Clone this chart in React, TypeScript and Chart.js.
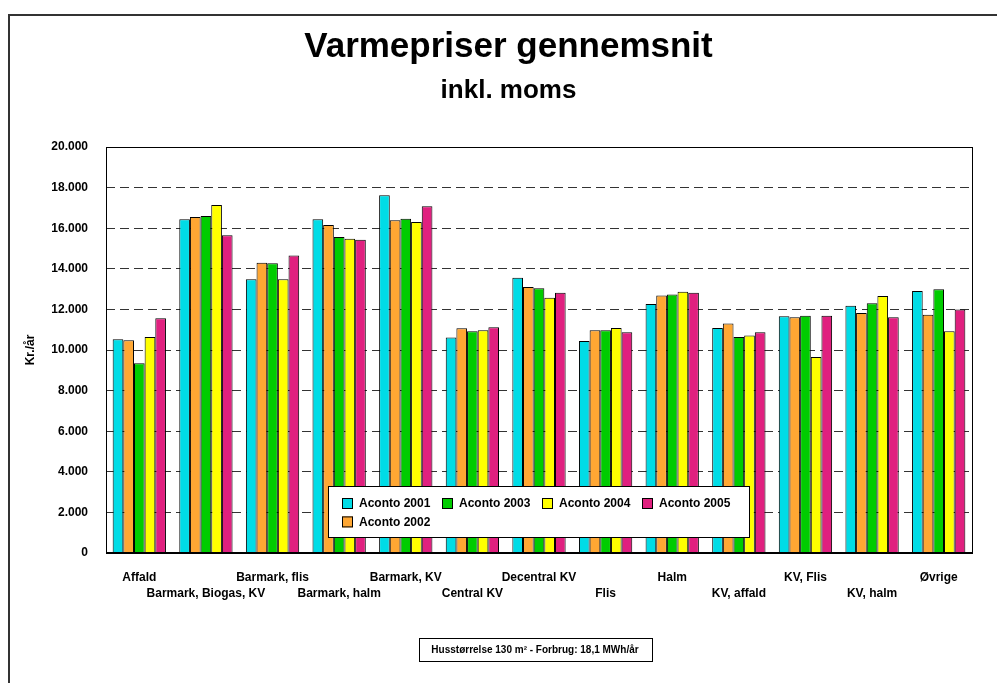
import React, { useEffect, useRef } from "react";
import { Chart, registerables } from "chart.js";

Chart.register(...registerables);

const titleText = "Varmepriser gennemsnit";
const subtitleText = "inkl. moms";
const yAxisTitle = "Kr./år";
const footnote = "Husstørrelse 130 m² - Forbrug: 18,1 MWh/år";

const categories = [
  "Affald",
  "Barmark, Biogas, KV",
  "Barmark, flis",
  "Barmark, halm",
  "Barmark, KV",
  "Central KV",
  "Decentral KV",
  "Flis",
  "Halm",
  "KV, affald",
  "KV, Flis",
  "KV, halm",
  "Øvrige",
];

const seriesNames = ["Aconto 2001", "Aconto 2002", "Aconto 2003", "Aconto 2004", "Aconto 2005"];

const aconto2001 = [10530, 16440, 13480, 16440, 17620, 10610, 13560, 10440, 12270, 11080, 11660, 12180, 12910];
const aconto2002 = [10480, 16550, 14300, 16160, 16390, 11070, 13100, 10970, 12690, 11310, 11610, 11820, 11740];
const aconto2003 = [9350, 16600, 14270, 15570, 16470, 10920, 13040, 10970, 12740, 10640, 11690, 12300, 12990];
const aconto2004 = [10640, 17140, 13480, 15480, 16310, 10970, 12580, 11080, 12870, 10710, 9660, 12660, 10920];
const aconto2005 = [11560, 15650, 14650, 15430, 17080, 11120, 12820, 10870, 12820, 10870, 11690, 11610, 12000];

const seriesValues = [aconto2001, aconto2002, aconto2003, aconto2004, aconto2005];
const seriesColors = ["#00DCE6", "#FFA733", "#00CC00", "#FFFF00", "#E0207F"];

// legend order as shown in the reference (2001, 2003, 2004, 2005 / 2002)
const legendOrder = [0, 2, 3, 4, 1];

const yMin = 0;
const yMax = 20000;
const yStep = 2000;

const FONT = "'Liberation Sans', Arial, sans-serif";

const fmt = (v: number) => String(v).replace(/\B(?=(\d{3})+(?!\d))/g, ".");

const decorPlugin = {
  id: "decor",
  afterLayout(chart: any) {
    // center title blocks over the whole canvas (not the padded layout width)
    chart.boxes.forEach((b: any) => {
      if (b && b.options && b.options.text !== undefined && b.position === "top") {
        b.left = 0;
        b.right = chart.width + 12;
        b.width = b.right - b.left;
      }
    });
  },
  beforeDraw(chart: any) {
    const ctx = chart.ctx;
    ctx.save();
    ctx.fillStyle = "#fff";
    ctx.fillRect(0, 0, chart.width, chart.height);
    // outer frame (top and left edges visible)
    ctx.strokeStyle = "#333";
    ctx.lineWidth = 2;
    ctx.beginPath();
    ctx.moveTo(1, chart.height + 2);
    ctx.lineTo(1, 7);
    ctx.lineTo(chart.width + 2, 7);
    ctx.stroke();
    ctx.restore();
  },
  afterDatasetsDraw(chart: any) {
    const ctx = chart.ctx;
    const a = chart.chartArea;
    ctx.save();
    // plot border
    ctx.strokeStyle = "#000";
    ctx.lineWidth = 1;
    ctx.strokeRect(Math.round(a.left) + 0.5, Math.round(a.top) + 0.5, Math.round(a.right - a.left), Math.round(a.bottom - a.top));
    ctx.lineWidth = 2;
    ctx.beginPath();
    ctx.moveTo(a.left, Math.round(a.bottom));
    ctx.lineTo(a.right, Math.round(a.bottom));
    ctx.stroke();

    // legend box
    const lx = 320, ly = 478, lw = 421, lh = 51;
    ctx.fillStyle = "#fff";
    ctx.fillRect(lx, ly, lw, lh);
    ctx.strokeStyle = "#000";
    ctx.lineWidth = 1;
    ctx.strokeRect(lx + 0.5, ly + 0.5, lw, lh);
    ctx.font = `bold 12px ${FONT}`;
    ctx.textBaseline = "middle";
    ctx.textAlign = "left";
    const ds = chart.data.datasets;
    legendOrder.forEach((di, k) => {
      const col = k % 4;
      const row = Math.floor(k / 4);
      const sx = lx + 14 + col * 100;
      const sy = ly + 12 + row * 18.4;
      ctx.fillStyle = ds[di].backgroundColor;
      ctx.fillRect(sx, sy, 11, 11);
      ctx.strokeStyle = "#000";
      ctx.strokeRect(sx + 0.5, sy + 0.5, 10, 10);
      ctx.fillStyle = "#000";
      ctx.fillText(ds[di].label, sx + 17, sy + 6);
    });

    // footnote box
    ctx.font = `bold 10px ${FONT}`;
    const tw = ctx.measureText(footnote).width;
    const cx = 527;
    const bw = Math.round(tw + 26);
    const bx = Math.round(cx - bw / 2);
    const by = 630;
    ctx.fillStyle = "#fff";
    ctx.fillRect(bx, by, bw, 23);
    ctx.strokeStyle = "#000";
    ctx.strokeRect(bx + 0.5, by + 0.5, bw, 23);
    ctx.fillStyle = "#000";
    ctx.textAlign = "center";
    ctx.fillText(footnote, cx, by + 12.5);
    ctx.restore();
  },
};

export default function App() {
  const ref = useRef<HTMLCanvasElement>(null);
  useEffect(() => {
    if (!ref.current) return;
    const chart = new Chart(ref.current, {
      type: "bar",
      data: {
        labels: categories,
        datasets: seriesValues.map((vals, i) => ({
          label: seriesNames[i],
          data: vals,
          backgroundColor: seriesColors[i],
          borderColor: "#000",
          borderWidth: 1,
          categoryPercentage: 0.8,
          barPercentage: 1.0,
        })),
      },
      options: {
        responsive: false,
        animation: false,
        devicePixelRatio: 1,
        layout: { padding: { left: 0, right: 25, top: 0, bottom: 0 } },
        plugins: {
          legend: { display: false },
          tooltip: { enabled: false },
          title: {
            display: true,
            text: titleText,
            color: "#000",
            font: { family: FONT, size: 35, weight: "bold", lineHeight: 1.2 },
            padding: { top: 18, bottom: 0 },
          },
          subtitle: {
            display: true,
            text: subtitleText,
            color: "#000",
            font: { family: FONT, size: 26, weight: "bold", lineHeight: 1.2 },
            padding: { top: 7, bottom: 40.8 },
          },
        },
        scales: {
          x: {
            grid: { display: false, drawTicks: false },
            border: { display: false },
            ticks: {
              autoSkip: false,
              maxRotation: 0,
              minRotation: 0,
              color: "#000",
              padding: 17,
              font: { family: FONT, size: 12, weight: "bold", lineHeight: 1.333 },
              callback: (_v: any, i: number) => (i % 2 ? ["", categories[i]] : categories[i]),
            },
            afterFit: (s: any) => {
              s.height = 130;
            },
          },
          y: {
            min: yMin,
            max: yMax,
            grid: { color: "#333", lineWidth: 1, drawTicks: false },
            border: { display: false, dash: [9, 5] },
            ticks: {
              stepSize: yStep,
              color: "#000",
              padding: 18,
              font: { family: FONT, size: 12, weight: "bold" },
              callback: (v: any) => fmt(Number(v)),
            },
            title: {
              display: true,
              text: yAxisTitle,
              color: "#000",
              font: { family: FONT, size: 12, weight: "bold", lineHeight: 1.2 },
              padding: { top: 15, bottom: 0 },
            },
            afterFit: (s: any) => {
              s.width = 98;
            },
          },
        },
      },
      plugins: [decorPlugin],
    });
    return () => chart.destroy();
  }, []);
  return (
    <div style={{ width: 989, height: 675 }}>
      <canvas ref={ref} width={989} height={675} style={{ display: "block" }} />
    </div>
  );
}
